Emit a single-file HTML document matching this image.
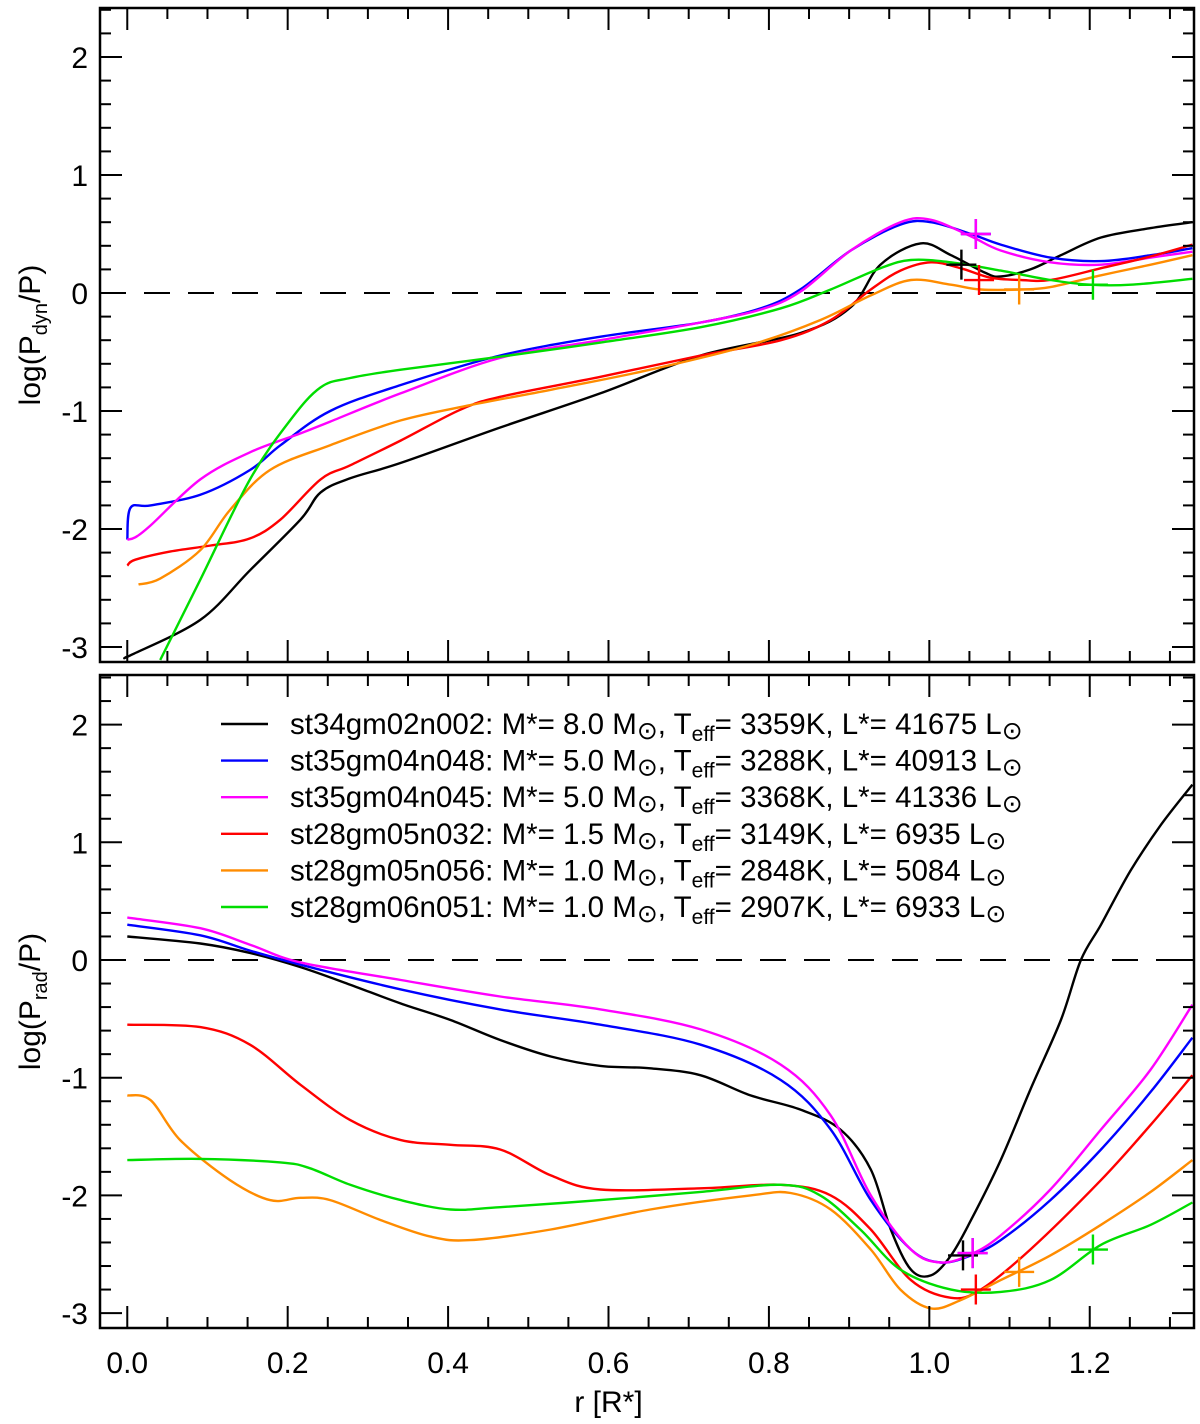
<!DOCTYPE html>
<html><head><meta charset="utf-8"><style>
body{margin:0;background:#fff;}
svg{display:block;font-family:"Liberation Sans",sans-serif;}
</style></head><body>
<svg id="chart" width="1200" height="1424" viewBox="0 0 1200 1424" xmlns="http://www.w3.org/2000/svg"></svg>
<script>
// ---- data ----
const seriesNames = ["st34gm02n002","st35gm04n048","st35gm04n045","st28gm05n032","st28gm05n056","st28gm06n051"];
const seriesColors = ["#000000","#0000ff","#ff00ff","#ff0000","#ff8c00","#00dd00"];
const legendLabels = [
 ["st34gm02n002: M*= 8.0 M","3359K","41675"],
 ["st35gm04n048: M*= 5.0 M","3288K","40913"],
 ["st35gm04n045: M*= 5.0 M","3368K","41336"],
 ["st28gm05n032: M*= 1.5 M","3149K","6935"],
 ["st28gm05n056: M*= 1.0 M","2848K","5084"],
 ["st28gm06n051: M*= 1.0 M","2907K","6933"]
];
const xTicks = [0.0,0.2,0.4,0.6,0.8,1.0,1.2];
const yTicks = [-3,-2,-1,0,1,2];

// top panel: log(Pdyn/P)
const topR = [
 [0,.004,.091,.153,.216,.241,.278,.341,.465,.59,.715,.839,.902,.939,.989,1.027,1.07,1.089,1.126,1.164,1.214,1.276,1.328],
 [0,.004,.029,.091,.153,.191,.253,.341,.465,.59,.715,.79,.839,.902,.964,1.002,1.052,1.089,1.151,1.214,1.276,1.328],
 [0,.01,.029,.091,.153,.216,.253,.341,.465,.59,.715,.79,.839,.902,.964,1.002,1.052,1.089,1.151,1.214,1.276,1.328],
 [0,.01,.054,.104,.153,.191,.241,.278,.341,.415,.465,.59,.715,.815,.877,.927,.964,1.002,1.039,1.076,1.114,1.151,1.214,1.276,1.328],
 [.014,.041,.091,.128,.178,.253,.341,.428,.528,.652,.777,.864,.927,.977,1.027,1.064,1.114,1.151,1.214,1.276,1.328],
 [.041,.091,.153,.203,.241,.278,.341,.465,.59,.715,.815,.877,.939,.977,1.027,1.089,1.151,1.201,1.251,1.328]
];
const topV = [
 [-3.08,-3.07,-2.77,-2.35,-1.92,-1.69,-1.57,-1.44,-1.14,-0.85,-0.53,-0.34,-0.12,0.24,0.42,0.32,0.17,0.14,0.2,0.32,0.47,0.55,0.6],
 [-2.09,-1.82,-1.8,-1.71,-1.5,-1.29,-1.0,-0.78,-0.53,-0.37,-0.25,-0.13,0.03,0.36,0.58,0.6,0.5,0.41,0.3,0.27,0.32,0.38],
 [-2.09,-2.07,-1.97,-1.58,-1.35,-1.19,-1.09,-0.85,-0.55,-0.4,-0.25,-0.14,0.01,0.36,0.6,0.62,0.48,0.36,0.26,0.24,0.3,0.35],
 [-2.31,-2.26,-2.19,-2.14,-2.08,-1.92,-1.58,-1.46,-1.25,-0.99,-0.88,-0.71,-0.53,-0.4,-0.23,0.03,0.19,0.26,0.21,0.13,0.11,0.11,0.21,0.31,0.41],
 [-2.47,-2.42,-2.18,-1.84,-1.5,-1.29,-1.08,-0.95,-0.82,-0.65,-0.44,-0.23,-0.02,0.11,0.07,0.03,0.03,0.05,0.15,0.24,0.32],
 [-3.11,-2.43,-1.58,-1.08,-0.8,-0.72,-0.65,-0.54,-0.42,-0.29,-0.13,0.03,0.21,0.28,0.26,0.19,0.11,0.07,0.07,0.12]
];
const topMarkR = [1.04,1.058,1.058,1.062,1.112,1.204];
const topMarkV = [0.24,0.5,0.5,0.11,0.03,0.07];

// bottom panel: log(Prad/P)
const botR = [
 [0,.091,.153,.216,.278,.341,.403,.465,.528,.59,.652,.715,.777,.839,.889,.927,.952,.977,1.002,1.027,1.052,1.089,1.126,1.164,1.189,1.214,1.251,1.289,1.328],
 [0,.091,.153,.216,.341,.465,.59,.715,.815,.877,.927,.977,1.014,1.052,1.089,1.151,1.214,1.276,1.328],
 [0,.091,.153,.216,.341,.465,.59,.715,.815,.877,.927,.977,1.014,1.052,1.089,1.151,1.214,1.276,1.328],
 [0,.091,.153,.216,.278,.341,.403,.465,.528,.59,.715,.815,.877,.927,.977,1.027,1.064,1.126,1.214,1.276,1.328],
 [0,.029,.066,.128,.178,.216,.253,.316,.378,.428,.528,.652,.777,.827,.877,.927,.964,1.002,1.039,1.089,1.151,1.214,1.276,1.328],
 [0,.091,.191,.228,.278,.341,.403,.465,.59,.715,.815,.864,.914,.964,1.027,1.089,1.151,1.214,1.276,1.328]
];
const botV = [
 [0.2,0.14,0.06,-0.06,-0.21,-0.37,-0.51,-0.68,-0.82,-0.9,-0.92,-0.98,-1.15,-1.27,-1.44,-1.78,-2.29,-2.63,-2.68,-2.51,-2.21,-1.7,-1.1,-0.51,0.0,0.3,0.76,1.15,1.49],
 [0.3,0.21,0.08,-0.04,-0.25,-0.42,-0.55,-0.72,-1.02,-1.44,-2.04,-2.46,-2.57,-2.51,-2.38,-2.04,-1.61,-1.12,-0.66],
 [0.36,0.27,0.13,-0.02,-0.17,-0.31,-0.42,-0.59,-0.89,-1.32,-2.0,-2.46,-2.57,-2.5,-2.34,-1.95,-1.44,-0.93,-0.38],
 [-0.55,-0.57,-0.72,-1.06,-1.36,-1.53,-1.57,-1.61,-1.83,-1.95,-1.94,-1.91,-2.0,-2.29,-2.72,-2.87,-2.8,-2.46,-1.87,-1.4,-0.98],
 [-1.15,-1.19,-1.53,-1.87,-2.04,-2.02,-2.04,-2.21,-2.35,-2.38,-2.29,-2.12,-2.0,-1.98,-2.12,-2.46,-2.8,-2.96,-2.89,-2.72,-2.51,-2.25,-1.97,-1.7],
 [-1.7,-1.69,-1.72,-1.77,-1.91,-2.04,-2.12,-2.1,-2.04,-1.97,-1.91,-2.0,-2.29,-2.63,-2.8,-2.82,-2.72,-2.42,-2.25,-2.06]
];
const botMarkR = [1.042,1.054,1.054,1.058,1.112,1.204];
const botMarkV = [-2.51,-2.49,-2.49,-2.8,-2.65,-2.46];

// ---- layout ----
const NS="http://www.w3.org/2000/svg";
const svg=document.getElementById('chart');
const L=100,R=1194;
const xMin=-0.034,xMax=1.330;
const X=r=>L+(r-xMin)/(xMax-xMin)*(R-L);
const panels=[
 {top:8,bot:662,y0:293,u:118,ylab:"dyn",name:"top-panel"},
 {top:675,bot:1328,y0:960,u:117.7,ylab:"rad",name:"bottom-panel"}
];
function el(tag,attrs,parent){const e=document.createElementNS(NS,tag);for(const k in attrs)e.setAttribute(k,attrs[k]);(parent||svg).appendChild(e);return e;}
function smoothPath(pts){
 let d="M"+pts[0][0].toFixed(1)+","+pts[0][1].toFixed(1);
 for(let i=0;i<pts.length-1;i++){
  const p0=pts[Math.max(i-1,0)],p1=pts[i],p2=pts[i+1],p3=pts[Math.min(i+2,pts.length-1)];
  const c1=[p1[0]+(p2[0]-p0[0])/6,p1[1]+(p2[1]-p0[1])/6];
  const c2=[p2[0]-(p3[0]-p1[0])/6,p2[1]-(p3[1]-p1[1])/6];
  d+="C"+c1[0].toFixed(1)+","+c1[1].toFixed(1)+" "+c2[0].toFixed(1)+","+c2[1].toFixed(1)+" "+p2[0].toFixed(1)+","+p2[1].toFixed(1);
 }
 return d;
}
panels.forEach((p,pi)=>{
 const Y=v=>p.y0-v*p.u;
 const g=el('g',{});
 
 
 const cid='clip'+pi;
 const cp=el('clipPath',{id:cid},g);el('rect',{x:L,y:p.top,width:R-L,height:p.bot-p.top},cp);
 const z=el('line',{x1:L,x2:R,y1:Y(0),y2:Y(0),stroke:'#000','stroke-width':2,'stroke-dasharray':'26,18'},g);
 
 
 const R_=pi==0?topR:botR,V_=pi==0?topV:botV,MR=pi==0?topMarkR:botMarkR,MV=pi==0?topMarkV:botMarkV;
 const cg=el('g',{'clip-path':'url(#'+cid+')'},g);
 R_.forEach((rs,si)=>{
  const pts=rs.map((r,i)=>[X(r),Y(V_[si][i])]);
  const path=el('path',{d:smoothPath(pts),fill:'none',stroke:seriesColors[si],'stroke-width':2.4},cg);
  
  
 });
 MR.forEach((r,si)=>{
  const cx=X(r),cy=Y(MV[si]);
  const m=el('path',{d:`M${cx-15},${cy}H${cx+15}M${cx},${cy-15}V${cy+15}`,stroke:seriesColors[si],'stroke-width':2.4,fill:'none'},cg);
  
  
 });
 const fr=el('rect',{x:L,y:p.top,width:R-L,height:p.bot-p.top,fill:'none',stroke:'#000','stroke-width':2.5},g);
 
 
 for(let k=0;k<=26;k++){const r=k*0.05;const x=X(r);const len=(k%4==0)?22:11;
  el('line',{x1:x,x2:x,y1:p.bot,y2:p.bot-len,stroke:'#000','stroke-width':2},g);
  el('line',{x1:x,x2:x,y1:p.top,y2:p.top+len,stroke:'#000','stroke-width':2},g);}
 for(let k=-15;k<=12;k++){const v=k*0.2;const y=Y(v);if(y<p.top-1||y>p.bot+1)continue;const len=(k%5==0)?22:11;
  el('line',{x1:L,x2:L+len,y1:y,y2:y,stroke:'#000','stroke-width':2},g);
  el('line',{x1:R,x2:R-len,y1:y,y2:y,stroke:'#000','stroke-width':2},g);}
 yTicks.forEach(v=>{const t=el('text',{x:88,y:Y(v)+11,'text-anchor':'end','font-size':30},g);t.textContent=v;
  
  });
 const yt=el('text',{transform:`translate(40,${(p.top+p.bot)/2}) rotate(-90)`,'text-anchor':'middle','font-size':30},g);
 
 
 yt.innerHTML=`log(P<tspan font-size="20" dy="7">${p.ylab}</tspan><tspan dy="-7">/P)</tspan>`;
});
xTicks.forEach(r=>{const t=el('text',{x:X(r),y:1373,'text-anchor':'middle','font-size':30});t.textContent=r.toFixed(1);
 
 });
const xt=el('text',{x:X(0.6),y:1412,'text-anchor':'middle','font-size':30});
xt.textContent="r [R*]";


legendLabels.forEach((lab,i)=>{
 const y=724+i*36.6;
 const g=el('g',{});
 
 
 el('line',{x1:221,x2:268,y1:y,y2:y,stroke:seriesColors[i],'stroke-width':2.4},g);
 const t=el('text',{x:290,y:y+10,'font-size':29.5},g);
 t.innerHTML=`${lab[0]}<tspan font-size="25" dy="5">⊙</tspan><tspan dy="-5">, T</tspan><tspan font-size="21" dy="7">eff</tspan><tspan dy="-7">= ${lab[1]}, L*= ${lab[2]} L</tspan><tspan font-size="25" dy="5">⊙</tspan>`;
});
</script>
</body></html>
